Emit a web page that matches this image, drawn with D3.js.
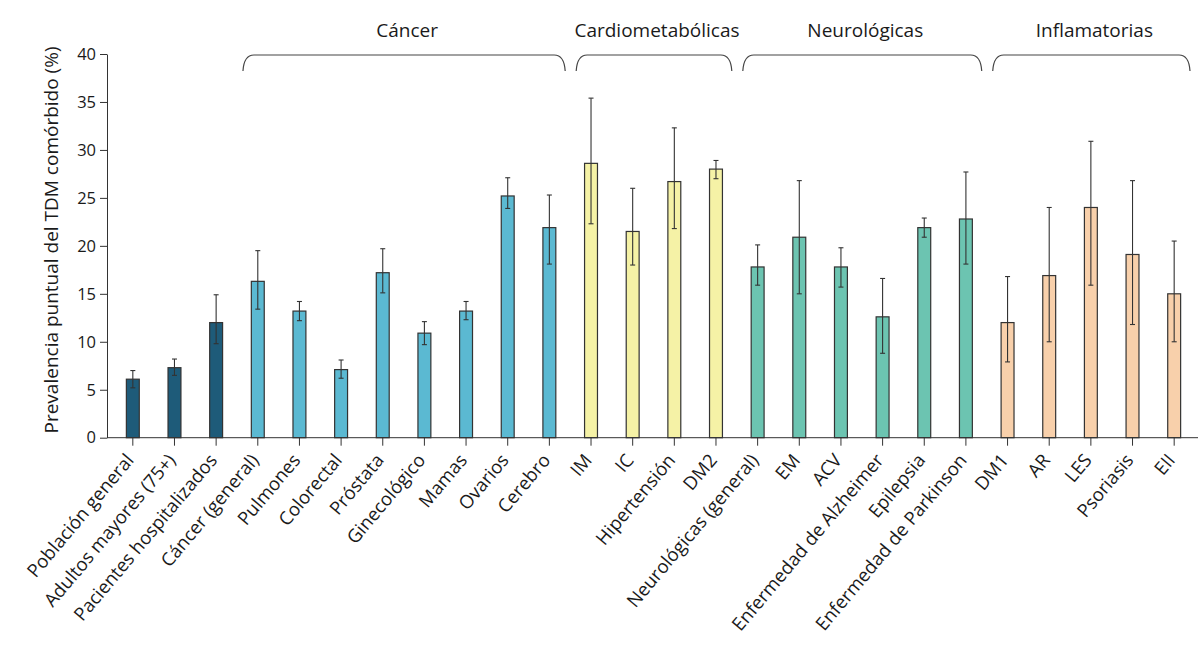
<!DOCTYPE html>
<html>
<head>
<meta charset="utf-8">
<script src="https://cdn.jsdelivr.net/npm/d3@7"></script>
<style>
  body { margin: 0; background: #fff; }
  svg text { font-family: "Open Sans", sans-serif; fill: #1a1a1a; }
</style>
</head>
<body>
<div id="chart"></div>
<script>
"use strict";
// categories and values
const categories = [
  "Población general", "Adultos mayores (75+)", "Pacientes hospitalizados",
  "Cáncer (general)", "Pulmones", "Colorectal", "Próstata", "Ginecológico", "Mamas", "Ovarios", "Cerebro",
  "IM", "IC", "Hipertensión", "DM2",
  "Neurológicas (general)", "EM", "ACV", "Enfermedad de Alzheimer", "Epilepsia", "Enfermedad de Parkinson",
  "DM1", "AR", "LES", "Psoriasis", "EII"
];
const groupOf = [
  "base", "base", "base",
  "cancer", "cancer", "cancer", "cancer", "cancer", "cancer", "cancer", "cancer",
  "cardio", "cardio", "cardio", "cardio",
  "neuro", "neuro", "neuro", "neuro", "neuro", "neuro",
  "infl", "infl", "infl", "infl", "infl"
];
const prevalence = [6.1, 7.3, 12.0, 16.3, 13.2, 7.1, 17.2, 10.9, 13.2, 25.2, 21.9,
  28.6, 21.5, 26.7, 28.0, 17.8, 20.9, 17.8, 12.6, 21.9, 22.8, 12.0, 16.9, 24.0, 19.1, 15.0];
const ciLow = [5.2, 6.5, 9.8, 13.4, 12.2, 6.2, 15.1, 9.7, 12.3, 23.9, 18.1,
  22.3, 18.0, 21.8, 27.0, 15.9, 15.0, 15.7, 8.8, 20.9, 18.1, 7.9, 10.0, 15.9, 11.8, 10.0];
const ciHigh = [7.0, 8.2, 14.9, 19.5, 14.2, 8.1, 19.7, 12.1, 14.2, 27.1, 25.3,
  35.4, 26.0, 32.3, 28.9, 20.1, 26.8, 19.8, 16.6, 22.9, 27.7, 16.8, 24.0, 30.9, 26.8, 20.5];
const yTicks = [0, 5, 10, 15, 20, 25, 30, 35, 40];
const groupNames = ["cancer", "cardio", "neuro", "infl"];
const groupLabels = ["Cáncer", "Cardiometabólicas", "Neurológicas", "Inflamatorias"];
const groupColors = { base: "#1e5b79", cancer: "#5bb9d2", cardio: "#f5f2a6", neuro: "#6cc4b1", infl: "#f8d0ab" };

const width = 1202, height = 650;
const svg = d3.select("#chart").append("svg")
  .attr("width", width).attr("height", height);

const x = d3.scaleBand().domain(categories).range([112, 1195]).paddingInner(0.69).paddingOuter(0.345);
const y = d3.scaleLinear().domain([0, 40]).range([437.7, 54]);
const data = categories.map((c, i) => ({ c, v: prevalence[i], lo: ciLow[i], hi: ciHigh[i], g: groupOf[i] }));

// y axis
const yAxis = svg.append("g").attr("transform", "translate(107,0)")
  .call(d3.axisLeft(y).tickValues(yTicks).tickSize(7).tickSizeOuter(0));
yAxis.select(".domain").attr("stroke", "#333");
yAxis.selectAll(".tick line").attr("stroke", "#333");
yAxis.selectAll(".tick text").attr("font-size", 16.5).attr("x", -11);

svg.append("text")
  .attr("transform", "translate(58,240) rotate(-90)")
  .attr("text-anchor", "middle")
  .attr("font-size", 19)
  .text("Prevalencia puntual del TDM comórbido (%)");

// bars
svg.append("g").selectAll("rect").data(data).join("rect")
  .attr("x", d => x(d.c))
  .attr("y", d => y(d.v))
  .attr("width", x.bandwidth())
  .attr("height", d => y(0) - y(d.v))
  .attr("fill", d => groupColors[d.g])
  .attr("stroke", "#333")
  .attr("stroke-width", 1.2);

// error bars
const err = svg.append("g").attr("stroke", "#333").attr("stroke-width", 1.1);
data.forEach(d => {
  const cx = x(d.c) + x.bandwidth() / 2;
  err.append("line").attr("x1", cx).attr("x2", cx).attr("y1", y(d.lo)).attr("y2", y(d.hi));
  err.append("line").attr("x1", cx - 2.5).attr("x2", cx + 2.5).attr("y1", y(d.lo)).attr("y2", y(d.lo));
  err.append("line").attr("x1", cx - 2.5).attr("x2", cx + 2.5).attr("y1", y(d.hi)).attr("y2", y(d.hi));
});

// x axis
const xAxis = svg.append("g").attr("transform", `translate(0,${y(0)})`)
  .call(d3.axisBottom(x).tickSize(8).tickSizeOuter(0));
xAxis.select(".domain").attr("d", "M107,0H1198").attr("stroke", "#333");
xAxis.selectAll(".tick line").attr("stroke", "#333");
xAxis.selectAll(".tick text")
  .attr("font-size", 18.5)
  .attr("text-anchor", "end")
  .attr("x", 0).attr("y", 0).attr("dy", null)
  .attr("transform", "translate(2,23) rotate(-50)");

// group brackets
const bracketTop = 55, bracketEnd = 71, curl = 11;
groupNames.forEach((g, k) => {
  const members = categories.filter((c, i) => groupOf[i] === g);
  const x0 = x(members[0]) - x.step() * x.paddingInner() / 2 + 6;
  const x1 = x(members[members.length - 1]) + x.bandwidth() + x.step() * x.paddingInner() / 2 - 5;
  const p = d3.path();
  p.moveTo(x0, bracketEnd);
  p.quadraticCurveTo(x0 + 1, bracketTop, x0 + curl, bracketTop);
  p.lineTo(x1 - curl, bracketTop);
  p.quadraticCurveTo(x1 - 1, bracketTop, x1, bracketEnd);
  svg.append("path").attr("d", p.toString()).attr("fill", "none")
    .attr("stroke", "#444").attr("stroke-width", 1.2);
  svg.append("text")
    .attr("x", (x0 + x1) / 2 + 3).attr("y", 37)
    .attr("text-anchor", "middle").attr("font-size", 19)
    .text(groupLabels[k]);
});
</script>
</body>
</html>
